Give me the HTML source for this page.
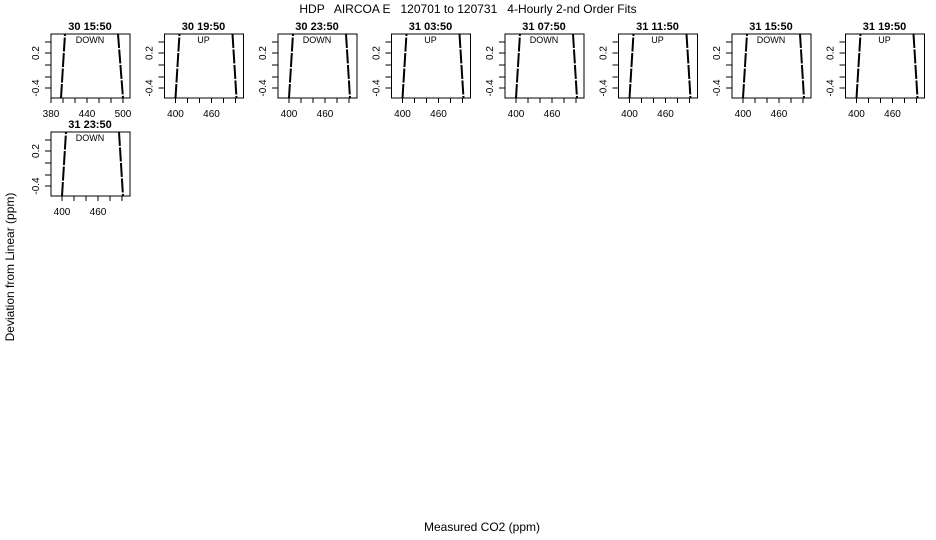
<!DOCTYPE html>
<html><head><meta charset="utf-8"><style>
html,body{margin:0;padding:0;background:#fff;width:936px;height:540px;overflow:hidden}
svg{display:block}
text{font-family:"Liberation Sans",sans-serif;fill:#000}
.t{font-size:11px;font-weight:bold;text-anchor:middle}
.l{font-size:9px;text-anchor:middle}
.a{font-size:10px;text-anchor:middle}
</style></head><body>
<svg width="936" height="540" viewBox="0 0 936 540" xmlns="http://www.w3.org/2000/svg">
<defs>
<g id="ax" stroke="#000" stroke-width="1" fill="none">
<rect x="0" y="0" width="79" height="64"/>
<path d="M0 8H-6M0 19H-6M0 31H-6M0 43H-6M0 54H-6M0 8V54"/>
</g>
<g id="xt" stroke="#000" fill="none">
<path d="M11 64V69M23 64V69M35 64V69M47 64V69M59 64V69M71 64V69M11 64H71"/>
<path d="M11 64L15 0M68 0L72 64" stroke-width="2" stroke-dasharray="14 1.5"/>
</g>
<g id="yl">
<text class="a" transform="translate(-12,19) rotate(-90)">0.2</text>
<text class="a" transform="translate(-12,54) rotate(-90)">-0.4</text>
</g>
<g id="xl">
<text class="a" x="11" y="83">400</text>
<text class="a" x="47" y="83">460</text>
</g>
</defs>
<text x="468" y="13" font-size="12" text-anchor="middle" style="white-space:pre" xml:space="preserve">HDP   AIRCOA E   120701 to 120731   4-Hourly 2-nd Order Fits</text>

<g transform="translate(51,34)">
<use href="#ax"/><use href="#yl"/>
<g stroke="#000" fill="none"><path d="M0 64V69M12 64V69M24 64V69M36 64V69M48 64V69M60 64V69M72 64V69M0 64H72"/>
<path d="M10 64L14 0M67 0L72 64" stroke-width="2" stroke-dasharray="14 1.5"/></g>
<text class="a" x="0" y="83">380</text><text class="a" x="36" y="83">440</text><text class="a" x="72" y="83">500</text>
<text class="t" x="39" y="-4">30 15:50</text><text class="l" x="39" y="9">DOWN</text>
</g>
<g transform="translate(164.5,34)"><use href="#ax"/><use href="#xt"/><use href="#yl"/><use href="#xl"/>
<text class="t" x="39" y="-4">30 19:50</text><text class="l" x="39" y="9">UP</text></g>
<g transform="translate(278,34)"><use href="#ax"/><use href="#xt"/><use href="#yl"/><use href="#xl"/>
<text class="t" x="39" y="-4">30 23:50</text><text class="l" x="39" y="9">DOWN</text></g>
<g transform="translate(391.5,34)"><use href="#ax"/><use href="#xt"/><use href="#yl"/><use href="#xl"/>
<text class="t" x="39" y="-4">31 03:50</text><text class="l" x="39" y="9">UP</text></g>
<g transform="translate(505,34)"><use href="#ax"/><use href="#xt"/><use href="#yl"/><use href="#xl"/>
<text class="t" x="39" y="-4">31 07:50</text><text class="l" x="39" y="9">DOWN</text></g>
<g transform="translate(618.5,34)"><use href="#ax"/><use href="#xt"/><use href="#yl"/><use href="#xl"/>
<text class="t" x="39" y="-4">31 11:50</text><text class="l" x="39" y="9">UP</text></g>
<g transform="translate(732,34)"><use href="#ax"/><use href="#xt"/><use href="#yl"/><use href="#xl"/>
<text class="t" x="39" y="-4">31 15:50</text><text class="l" x="39" y="9">DOWN</text></g>
<g transform="translate(845.5,34)"><use href="#ax"/><use href="#xt"/><use href="#yl"/><use href="#xl"/>
<text class="t" x="39" y="-4">31 19:50</text><text class="l" x="39" y="9">UP</text></g>
<g transform="translate(51,132)"><use href="#ax"/><use href="#xt"/><use href="#yl"/><use href="#xl"/>
<text class="t" x="39" y="-4">31 23:50</text><text class="l" x="39" y="9">DOWN</text></g>

<text x="482" y="531" font-size="12" text-anchor="middle">Measured CO2 (ppm)</text>
<text font-size="12" text-anchor="middle" transform="translate(14,267) rotate(-90)">Deviation from Linear (ppm)</text>
</svg>
</body></html>
